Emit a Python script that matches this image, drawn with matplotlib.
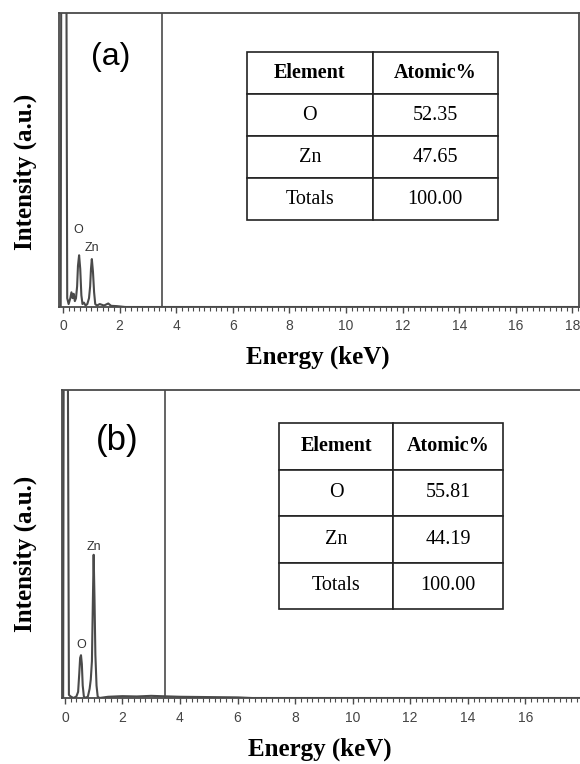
import matplotlib
matplotlib.use("Agg")
import matplotlib.pyplot as plt
from matplotlib.ticker import MultipleLocator

# ---- data ----
# panel (a)
energy_a = [-0.08, -0.06, 0.12, 0.15, 0.2, 0.26, 0.3, 0.34, 0.38, 0.42, 0.46, 0.5,
            0.53, 0.57, 0.61, 0.65, 0.69, 0.74, 0.8, 0.86, 0.92, 0.96, 0.99, 1.02,
            1.06, 1.1, 1.14, 1.2, 1.3, 1.45, 1.6, 1.7, 1.9, 2.2, 18.3]
counts_a = [0.0, 1.2, 1.2, 0.03, 0.01, 0.03, 0.05, 0.03, 0.045, 0.02, 0.03, 0.07,
            0.14, 0.176, 0.13, 0.04, 0.01, 0.015, 0.005, 0.01, 0.03, 0.07, 0.13, 0.163,
            0.12, 0.05, 0.01, 0.005, 0.01, 0.005, 0.012, 0.004, 0.003, 0.0, 0.0]
# panel (b)
energy_b = [-0.06, -0.04, 0.1, 0.14, 0.2, 0.3, 0.4, 0.46, 0.5, 0.53, 0.56, 0.59,
            0.62, 0.66, 0.72, 0.8, 0.86, 0.9, 0.94, 0.97, 1.0, 1.03, 1.06, 1.1,
            1.14, 1.2, 1.5, 2.0, 2.5, 3.0, 3.3, 4.0, 5.0, 6.0, 6.5, 18.0]
counts_b = [0.0, 1.2, 1.2, 0.01, 0.005, 0.0, 0.005, 0.02, 0.08, 0.13, 0.139, 0.11,
            0.04, 0.005, 0.0, 0.005, 0.03, 0.06, 0.12, 0.3, 0.465, 0.32, 0.14, 0.04,
            0.005, 0.0, 0.004, 0.006, 0.005, 0.007, 0.006, 0.004, 0.003, 0.002, 0.0, 0.0]

# peak labels: (text, energy, height)
peaks_a = [("O", 0.55, 0.263), ("Zn", 1.02, 0.2)]
peaks_b = [("O", 0.56, 0.172), ("Zn", 1.0, 0.49)]

# composition tables
col_labels = ["Element", "Atomic%"]
elements = ["O", "Zn", "Totals"]
atomic_a = ["52.35", "47.65", "100.00"]
atomic_b = ["55.81", "44.19", "100.00"]

W, H = 580, 764
SERIF = "Liberation Serif"
SANS = "Liberation Sans"
GREY = "#4a4a4a"

fig = plt.figure(figsize=(W / 100, H / 100), dpi=100)


def px_axes(left, top, right, bottom):
    return fig.add_axes([left / W, 1 - bottom / H, (right - left) / W, (bottom - top) / H])


def draw_panel(ax, energy, counts, xlim, marker, peaks, tag, tag_xy, tag_size,
               values, tbox, colw, right_spine=True):
    ax.plot(energy, counts, color=GREY, lw=1.5, clip_on=True)
    ax.axvline(marker, color=GREY, lw=1.2)
    ax.set_xlim(*xlim)
    ax.set_ylim(0, 1)
    ax.set_yticks([])
    ax.xaxis.set_major_locator(MultipleLocator(2))
    ax.xaxis.set_minor_locator(MultipleLocator(0.2))
    ax.tick_params(axis="x", which="major", direction="out", length=4, width=1,
                   color=GREY, pad=5, labelsize=10, labelcolor="#444444")
    ax.tick_params(axis="x", which="minor", direction="out", length=3, width=0.8,
                   color=GREY)
    for lab in ax.get_xticklabels():
        lab.set_fontfamily(SANS)
    for name, sp in ax.spines.items():
        sp.set_color(GREY)
        sp.set_linewidth(1.3)
    ax.spines["right"].set_visible(right_spine)

    for txt, e, h in peaks:
        ax.text(e, h, txt, fontsize=9, family=SANS, color="#333333",
                ha="center", va="center")

    fig.text(tag_xy[0] / W, 1 - tag_xy[1] / H, tag, fontsize=tag_size,
             family=SANS, ha="center", va="center")

    rows = [[e, v] for e, v in zip(elements, values)]
    tbl = ax.table(cellText=rows, colLabels=col_labels, cellLoc="center",
                   colWidths=colw, bbox=tbox)
    tbl.auto_set_font_size(False)
    for (r, c), cell in tbl.get_celld().items():
        cell.set_edgecolor("#222222")
        cell.set_linewidth(1.2)
        cell.set_text_props(family=SERIF, fontsize=14.5,
                            weight="bold" if r == 0 else "normal")


ax_a = px_axes(59, 13, 579, 307)
draw_panel(ax_a, energy_a, counts_a, (-0.14, 18.23), 3.5, peaks_a,
           "(a)", (111, 57), 23, atomic_a,
           [(247 - 59) / 520, (307 - 220) / 294, 251 / 520, 168 / 294],
           [0.5, 0.5])

ax_b = px_axes(62, 390, 580, 698)
draw_panel(ax_b, energy_b, counts_b, (-0.1, 17.9), 3.48, peaks_b,
           "(b)", (117, 440), 25, atomic_b,
           [(279 - 62) / 518, (698 - 609) / 308, 224 / 518, 186 / 308],
           [0.51, 0.49], right_spine=False)

# axis titles
for cy in (172, 554):
    fig.text(25 / W, 1 - cy / H, "Intensity (a.u.)", rotation=90, fontsize=18,
             family=SERIF, weight="bold", ha="center", va="center")
for cx, cy in ((318, 357), (320, 749)):
    fig.text(cx / W, 1 - cy / H, "Energy (keV)", fontsize=18,
             family=SERIF, weight="bold", ha="center", va="center")

fig.savefig("out.png", dpi=100, facecolor="white")
